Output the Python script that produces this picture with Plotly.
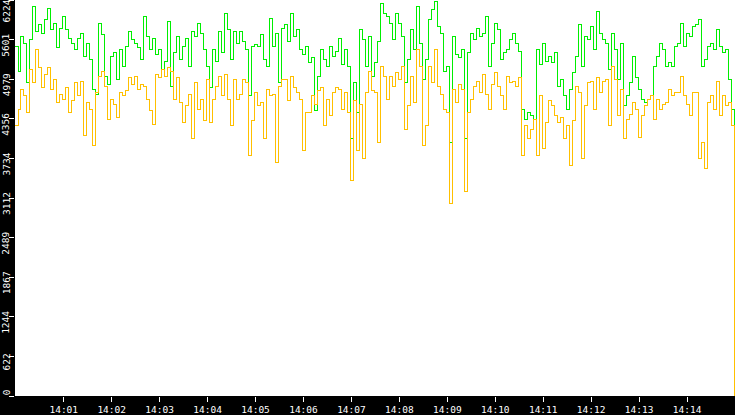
import numpy as np
import pandas as pd
import plotly.graph_objects as go

# ---- data ----
start_time = "2024-01-01 13:59:59"
sample_ms = 3750

green_values = [
    5496, 5106, 5652, 5548, 4924, 5600, 6120, 5730, 5834, 5704,
    5912, 6094, 5756, 5860, 5470, 5782, 5964, 5756, 5626, 5548,
    5444, 5626, 5704, 5340, 5548, 5288, 4820, 4742, 5860, 5678,
    5028, 4898, 5340, 5392, 4976, 5444, 5184, 5496, 5730, 5600,
    5548, 5470, 5288, 5964, 5652, 5444, 5626, 5366, 5444, 5132,
    5262, 5886, 4872, 5392, 5652, 5288, 5496, 5626, 5184, 5730,
    5652, 5860, 5704, 5444, 5184, 4846, 5444, 5262, 5730, 5392,
    6016, 5756, 5288, 5730, 5548, 5730, 5574, 5444, 4716, 5496,
    5522, 5496, 5678, 5288, 5184, 5938, 5496, 5704, 4924, 5782,
    5834, 5574, 6016, 5652, 5756, 5444, 5366, 5496, 5236, 5314,
    4482, 5028, 5444, 5288, 5184, 5496, 5340, 5418, 5626, 5210,
    5444, 5184, 4040, 4924, 4456, 5756, 5600, 5184, 5652, 5028,
    5236, 5574, 6172, 6016, 5964, 5860, 5600, 6016, 5860, 5652,
    4924, 5288, 5756, 5444, 6120, 5548, 4976, 5288, 5912, 6068,
    6198, 5808, 5704, 5106, 5184, 3988, 5652, 5366, 5314, 5444,
    4040, 5392, 5704, 5600, 5782, 5652, 5704, 5964, 5184, 5548,
    5860, 5756, 5288, 5392, 5444, 5600, 5704, 5548, 5418, 4508,
    4352, 4456, 4404, 4352, 5444, 5210, 5548, 5262, 5340, 5236,
    5392, 4872, 4976, 4716, 4508, 4820, 5080, 5340, 5834, 5184,
    5652, 5600, 5808, 5444, 6042, 5704, 5600, 5548, 5132, 5704,
    5444, 4976, 5548, 4560, 4716, 4924, 5340, 5002, 4820, 4664,
    4612, 4664, 4716, 5184, 5340, 5548, 5444, 5184, 5236, 5184,
    5496, 5548, 5860, 5496, 5704, 5652, 5808, 5834, 5912, 5184,
    5288, 5496, 5548, 5444, 5756, 5496, 5392, 5444, 4976, 4508,
    2060,
]

yellow_values = [
    4248, 4508, 4820, 4716, 4456, 5132, 4924, 5444, 5158, 4846,
    5054, 5158, 4820, 4976, 4612, 4742, 4664, 4846, 4456, 4638,
    4924, 4716, 4950, 4092, 4612, 4508, 3936, 4768, 5028, 5106,
    4872, 4352, 4664, 4586, 4378, 4768, 4716, 4794, 5002, 4898,
    5028, 4820, 4898, 4872, 4664, 4482, 4274, 5054, 5002, 5132,
    5028, 5158, 5106, 4664, 5002, 4612, 4300, 4560, 4742, 4040,
    4924, 4508, 4664, 4326, 4976, 4300, 4664, 4872, 5028, 4716,
    5054, 4664, 4248, 4976, 4664, 4742, 4976, 4924, 3780, 4326,
    4768, 4560, 4612, 4040, 4820, 4716, 4742, 3676, 4872, 4976,
    4976, 4638, 5028, 4846, 4768, 4664, 3858, 4456, 4456, 4716,
    4586, 4794, 4846, 4248, 4664, 4404, 4768, 4846, 4820, 4508,
    4768, 4456, 3390, 4638, 3858, 4586, 3728, 4768, 5106, 4794,
    4768, 3988, 5184, 5028, 4664, 5028, 4872, 5080, 4976, 5184,
    4196, 4560, 5028, 4612, 5444, 5184, 3936, 4248, 5184, 4924,
    5444, 4872, 4742, 4508, 4456, 3026, 4820, 4612, 4898, 4820,
    3208, 4456, 4664, 4872, 4950, 4768, 5054, 4742, 4508, 4898,
    5080, 4872, 4716, 4508, 5028, 4924, 4950, 4872, 5002, 3780,
    4248, 4040, 4196, 4352, 3780, 4716, 3884, 4300, 4638, 4560,
    4404, 4300, 4378, 4040, 4248, 3624, 4326, 4872, 4768, 3728,
    4560, 4924, 4950, 4508, 5002, 4768, 4950, 4976, 4248, 5184,
    4976, 4404, 4820, 4040, 4352, 4430, 4612, 4508, 4066, 4404,
    4560, 4664, 4716, 4352, 4664, 4508, 4586, 4612, 4820, 4716,
    4768, 4768, 5028, 4716, 4586, 4404, 4768, 4768, 3728, 3988,
    3572, 4612, 4716, 4508, 4950, 4404, 4716, 4560, 4612, 4248,
    0,
]

x_tick_times = ["14:01", "14:02", "14:03", "14:04", "14:05", "14:06", "14:07",
                "14:08", "14:09", "14:10", "14:11", "14:12", "14:13", "14:14"]
y_tick_labels = ["0", "622", "1244", "1867", "2489", "3112", "3734",
                 "4356", "4979", "5601", "6224"]
y_max = 6224

# ---- build ----
t0 = pd.Timestamp(start_time)
times = t0 + pd.to_timedelta(np.arange(len(green_values)) * sample_ms, unit="ms")
x_range = [t0, t0 + pd.Timedelta(milliseconds=sample_ms * (len(green_values) - 1) + 1000)]
x_tickvals = [pd.Timestamp("2024-01-01 " + s + ":00") for s in x_tick_times]
y_tickvals = [int(s) for s in y_tick_labels]

FONT = "DejaVu Sans Mono"
W, H = 735, 415
ML, MB = 15, 16
PLOT_H = H - MB

fig = go.Figure()
fig.add_trace(go.Scatter(x=times, y=green_values, mode="lines",
                         line=dict(color="#00ee00", width=1, shape="hv"),
                         hoverinfo="skip", showlegend=False))
fig.add_trace(go.Scatter(x=times, y=yellow_values, mode="lines",
                         line=dict(color="#ffc000", width=1, shape="hv"),
                         hoverinfo="skip", showlegend=False))

annotations = []
for lab, v in zip(y_tick_labels, y_tickvals):
    tick_px = PLOT_H - v * PLOT_H / y_max
    half = len(lab) * 0.602 * 9.5 / 2
    center = min(max(tick_px + 6, half), PLOT_H - half - 1)
    annotations.append(dict(
        x=0, xref="paper", y=v, yref="y", text=lab, showarrow=False,
        textangle=-90, xanchor="center", yanchor="middle",
        xshift=-9, yshift=-(center - tick_px),
        font=dict(family=FONT, size=9.5, color="white"),
    ))

fig.update_layout(
    width=W, height=H,
    margin=dict(l=ML, r=0, t=0, b=MB, pad=0),
    paper_bgcolor="black", plot_bgcolor="white",
    showlegend=False,
    annotations=annotations,
    xaxis=dict(type="date", range=x_range, tickvals=x_tickvals, ticktext=x_tick_times,
               ticks="outside", ticklen=5, tickwidth=1, tickcolor="white",
               tickfont=dict(family=FONT, size=9.5, color="white"),
               showgrid=False, zeroline=False, showline=False, fixedrange=True),
    yaxis=dict(range=[0, y_max], tickvals=y_tickvals, ticks="outside", ticklen=5,
               tickwidth=1, tickcolor="white", showticklabels=False,
               showgrid=False, zeroline=False, showline=False, fixedrange=True),
)

fig.write_html(
    "out.html", config={"displayModeBar": False, "staticPlot": True},
    post_script=(
        "document.body.style.margin='0';document.body.style.overflow='hidden';"
        "document.querySelectorAll('.scatterlayer path.js-line').forEach(function(p){"
        "p.style.shapeRendering='crispEdges';});"
    ),
)
